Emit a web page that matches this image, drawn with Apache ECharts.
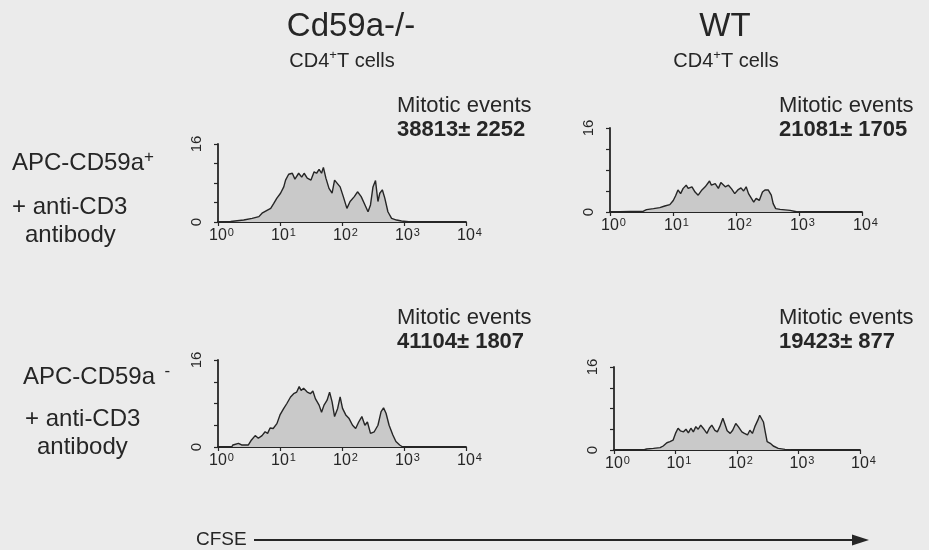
<!DOCTYPE html>
<html>
<head>
<meta charset="utf-8">
<script src="https://cdn.jsdelivr.net/npm/echarts@6/dist/echarts.min.js"></script>
<style>
  html, body { margin: 0; padding: 0; background: #ebebeb; }
  #chart { width: 929px; height: 550px; }
</style>
</head>
<body>
<div id="chart"></div>
<script>
// CFSE dilution histograms of CD4+ T cells (x: CFSE fluorescence, log scale; y: cell count)

// Cd59a-/- T cells, APC-CD59a+ + anti-CD3
const koPosCFSE = [1, 1.6, 2.6, 3.55, 4.57, 5.13, 6.17, 7.08, 7.94, 8.91, 10.2, 11.5, 12.3, 13.8, 15.8, 17.4, 20.0, 22.4, 24.5, 27.5, 31.6, 35.5, 38.9, 42.7, 46.8, 50.1, 55.0, 61.7, 69.2, 75.9, 81.3, 93.3, 105, 120, 135, 158, 178, 204, 229, 263, 288, 316, 347, 380, 407, 447, 490, 550, 631, 759, 912, 1300];
const koPosCount = [0, 0.1, 0.4, 0.75, 1.1, 1.8, 2.4, 2.8, 3.8, 4.9, 5.9, 7.2, 8.6, 9.8, 10.0, 8.8, 10.0, 9.2, 10.0, 9.0, 8.6, 10.3, 10.0, 10.8, 10.0, 11.2, 9.0, 6.9, 5.9, 8.6, 9.0, 7.2, 5.2, 2.8, 4.2, 5.2, 6.2, 5.2, 3.8, 2.1, 3.5, 7.2, 8.5, 4.2, 5.9, 6.6, 4.9, 2.1, 0.75, 0.4, 0.2, 0];

// WT T cells, APC-CD59a+ + anti-CD3
const wtPosCFSE = [1, 2.09, 3.39, 3.80, 4.90, 6.17, 7.41, 8.91, 10.1, 11.0, 12.0, 13.2, 14.5, 16.2, 17.4, 20.0, 22.4, 25.1, 28.8, 32.4, 38.0, 40.7, 46.8, 52.5, 57.5, 67.6, 75.9, 85.1, 95.5, 107, 120, 132, 145, 158, 170, 191, 209, 234, 263, 288, 324, 363, 389, 427, 501, 603, 724, 912, 1300];
const wtPosCount = [0, 0.1, 0.15, 0.45, 0.64, 0.84, 1.15, 1.4, 2.2, 3.1, 4.2, 3.5, 4.5, 5.1, 4.5, 4.8, 3.8, 3.2, 4.2, 4.8, 5.9, 5.1, 5.4, 4.5, 5.6, 4.8, 5.1, 4.4, 3.5, 4.2, 4.6, 4.0, 4.8, 3.5, 2.9, 1.9, 2.6, 2.2, 3.8, 4.2, 4.2, 3.2, 1.6, 0.64, 0.5, 0.4, 0.3, 0.05, 0];

// Cd59a-/- T cells, APC-CD59a- + anti-CD3
const koNegCFSE = [1, 1.66, 1.74, 2.14, 2.40, 3.09, 3.47, 3.98, 4.47, 5.13, 5.75, 6.31, 6.92, 7.76, 8.91, 10.0, 11.5, 12.9, 14.8, 16.6, 18.6, 20.4, 21.9, 24.0, 27.5, 30.9, 33.9, 37.2, 42.7, 46.8, 51.3, 57.5, 63.1, 69.2, 75.9, 85.1, 93.3, 102, 115, 129, 148, 166, 186, 209, 234, 257, 288, 331, 380, 427, 468, 513, 575, 661, 741, 851, 955, 1300];
const koNegCount = [0, 0, 0.37, 0.67, 0.37, 0.37, 1.3, 2.1, 1.6, 2.1, 2.8, 2.5, 3.5, 3.4, 4.3, 5.9, 7.1, 8.0, 9.2, 9.8, 10.1, 11.1, 10.4, 10.8, 10.1, 9.8, 10.3, 8.9, 7.7, 6.4, 7.7, 8.6, 10.1, 8.3, 5.6, 7.1, 9.2, 7.1, 5.9, 5.3, 4.0, 3.4, 4.6, 5.6, 4.0, 4.6, 2.5, 2.8, 4.0, 6.5, 7.2, 6.2, 4.0, 2.2, 1.0, 0.37, 0, 0];

// WT T cells, APC-CD59a- + anti-CD3
const wtNegCFSE = [1, 3.02, 3.39, 4.37, 5.62, 6.31, 7.24, 8.13, 9.12, 10.0, 11.0, 12.0, 13.5, 14.8, 16.2, 17.8, 19.5, 21.4, 23.4, 25.7, 28.2, 32.4, 35.5, 38.9, 43.7, 47.9, 52.5, 58.9, 63.1, 69.2, 77.6, 85.1, 95.5, 105, 120, 132, 148, 162, 178, 195, 219, 234, 251, 269, 288, 309, 347, 389, 468, 603, 776, 1300];
const wtNegCount = [0, 0, 0.19, 0.32, 0.45, 0.77, 1.4, 1.6, 1.9, 3.2, 4.2, 3.7, 3.5, 4.0, 3.3, 4.2, 3.5, 4.5, 4.0, 4.8, 4.2, 3.2, 4.2, 4.8, 3.8, 3.5, 4.5, 6.1, 5.1, 3.7, 3.2, 3.8, 5.1, 4.5, 3.5, 3.2, 2.9, 3.8, 3.2, 4.5, 5.8, 6.7, 7.0, 5.4, 3.5, 1.6, 1.3, 0.77, 0.32, 0.13, 0, 0];

// Mitotic events (mean ± SD)
const mitoticMeans = ['38813', '21081', '41104', '19423'];
const mitoticSDs = ['2252', '1705', '1807', '877'];

// Axis ranges and the y values that carry a label
const cfseRange = [1, 10000];
const countRange = [0, 16];
const countLabelled = [0, 16];

const INK = '#262626';
const FILL = '#c9c9c9';
const SANS = '"Liberation Sans", Arial, sans-serif';

const zip = (xs, ys) => xs.map((x, i) => [x, ys[i]]);

const panels = [
  { grid: { left: 218, top: 144, width: 248, height: 78 }, data: zip(koPosCFSE, koPosCount) },
  { grid: { left: 610, top: 128, width: 252, height: 84 }, data: zip(wtPosCFSE, wtPosCount) },
  { grid: { left: 218, top: 360, width: 248, height: 87 }, data: zip(koNegCFSE, koNegCount) },
  { grid: { left: 614, top: 367, width: 246, height: 83 }, data: zip(wtNegCFSE, wtNegCount) }
];

const option = {
  backgroundColor: '#ebebeb',
  animation: false,
  grid: panels.map(p => Object.assign({ containLabel: false }, p.grid)),
  xAxis: panels.map((p, i) => ({
    type: 'log',
    gridIndex: i,
    logBase: 10,
    min: cfseRange[0],
    max: cfseRange[1],
    interval: 1,
    axisLine: { show: true, lineStyle: { color: INK, width: 1.8 } },
    axisTick: { show: true, length: 4, lineStyle: { color: INK, width: 1.2 } },
    minorTick: { show: false },
    splitLine: { show: false },
    axisLabel: {
      margin: 5,
      formatter: v => '{pad|}{b|10}{s|' + Math.round(Math.log10(v)) + '}',
      rich: {
        pad: { width: 7 },
        b: { fontSize: 16, fontFamily: SANS, color: INK, lineHeight: 18 },
        s: { fontSize: 11, fontFamily: SANS, color: INK, verticalAlign: 'top', lineHeight: 10, padding: [0, 0, 0, 1] }
      }
    }
  })),
  yAxis: panels.map((p, i) => ({
    type: 'value',
    gridIndex: i,
    min: countRange[0],
    max: countRange[1],
    interval: 4,
    axisLine: { show: true, lineStyle: { color: INK, width: 1.8 } },
    axisTick: { show: true, length: 4, lineStyle: { color: INK, width: 1.2 } },
    splitLine: { show: false },
    axisLabel: {
      rotate: 90,
      margin: 14,
      fontSize: 15,
      fontFamily: SANS,
      color: INK,
      formatter: v => (countLabelled.indexOf(v) >= 0 ? String(v) : '')
    }
  })),
  series: panels.map((p, i) => ({
    type: 'line',
    xAxisIndex: i,
    yAxisIndex: i,
    data: p.data,
    showSymbol: false,
    symbol: 'none',
    lineStyle: { color: INK, width: 1.4 },
    areaStyle: { color: FILL, opacity: 1 },
    z: 2
  })),
  graphic: []
};

const g = option.graphic;
function txt(x, y, text, size, opts) {
  g.push({
    type: 'text', x: x, y: y,
    style: Object.assign({
      text: text, fontFamily: SANS, fontSize: size, fill: INK,
      textAlign: 'left', textVerticalAlign: 'middle'
    }, opts || {})
  });
}
function supText(x, y, parts, size, supSize, align) {
  g.push({
    type: 'text', x: x, y: y,
    style: {
      text: parts.map(p => '{' + p[0] + '|' + p[1] + '}').join(''),
      align: align || 'left', verticalAlign: 'middle',
      rich: {
        n: { fontFamily: SANS, fontSize: size, fill: INK, lineHeight: size + 4 },
        s: { fontFamily: SANS, fontSize: supSize, fill: INK, verticalAlign: 'top', lineHeight: supSize + 2 }
      }
    }
  });
}

// Column headers
txt(351, 27, 'Cd59a-/-', 33, { textAlign: 'center' });
txt(725, 27, 'WT', 33, { textAlign: 'center' });
supText(342, 61, [['n', 'CD4'], ['s', '+'], ['n', 'T cells']], 20, 13, 'center');
supText(726, 61, [['n', 'CD4'], ['s', '+'], ['n', 'T cells']], 20, 13, 'center');

// Mitotic events per panel
const evPos = [[397, 106], [779, 106], [397, 318], [779, 318]];
evPos.forEach((p, i) => {
  txt(p[0], p[1], 'Mitotic events', 22);
  txt(p[0], p[1] + 24, mitoticMeans[i] + '\u00b1 ' + mitoticSDs[i], 22, { fontWeight: 'bold' });
});

// Row labels
supText(12, 163, [['n', 'APC-CD59a'], ['s', '+']], 24, 17);
txt(12, 207, '+ anti-CD3', 24);
txt(25, 235, 'antibody', 24);
supText(23, 377, [['n', 'APC-CD59a'], ['s', '  -']], 24, 17);
txt(25, 419, '+ anti-CD3', 24);
txt(37, 447, 'antibody', 24);

// CFSE arrow
txt(196, 540, 'CFSE', 19);
g.push({ type: 'line', shape: { x1: 254, y1: 540, x2: 856, y2: 540 }, style: { stroke: INK, lineWidth: 2 } });
g.push({ type: 'polygon', shape: { points: [[852, 534.5], [869, 540], [852, 545.5]] }, style: { fill: INK } });

const chart = echarts.init(document.getElementById('chart'), null, { renderer: 'canvas' });
chart.setOption(option);
</script>
</body>
</html>
